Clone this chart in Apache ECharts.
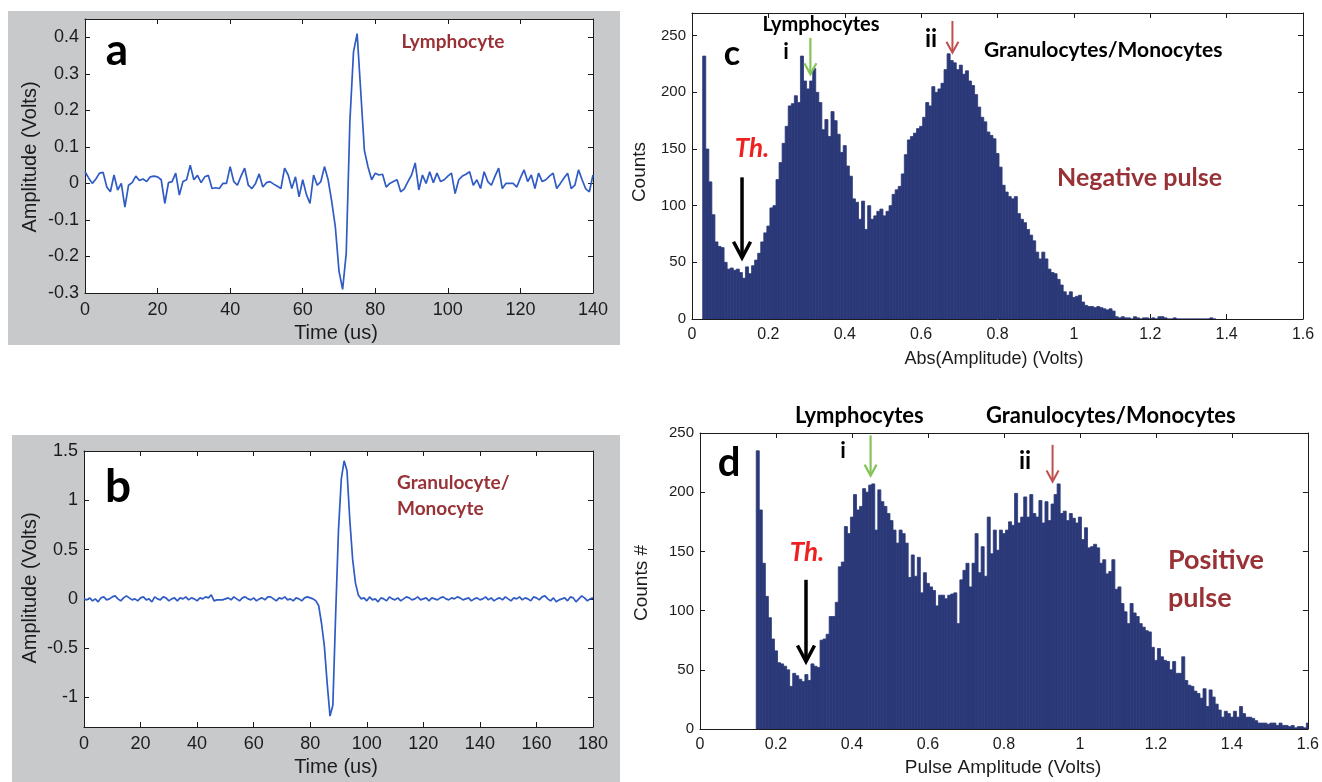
<!DOCTYPE html>
<html>
<head>
<meta charset="utf-8">
<script src="https://cdn.jsdelivr.net/npm/echarts@6/dist/echarts.min.js"></script>
<style>
  html, body { margin: 0; padding: 0; background: #ffffff; }
  #chart { width: 1322px; height: 782px; }
</style>
</head>
<body>
<div id="chart"></div>
<script>
// ---- (a) lymphocyte pulse, one sample per microsecond ----
const lymphTimeStep = 1;
const lymphAmplitude = [
  0.032, 0.015, 0.000, 0.012, 0.028, 0.030, -0.010, -0.023, 0.023, -0.018,
  0.000, -0.065, -0.005, 0.002, 0.020, 0.008, 0.012, 0.005, 0.018, 0.020,
  0.018, 0.010, -0.055, 0.002, 0.005, 0.028, -0.032, 0.005, 0.010, 0.050,
  0.010, 0.022, 0.002, 0.018, 0.022, -0.014, -0.012, -0.014, 0.000, 0.000,
  0.046, 0.005, -0.005, 0.020, 0.042, -0.005, -0.014, 0.000, 0.026, -0.010,
  0.002, 0.005, -0.002, -0.008, -0.014, 0.042, 0.023, -0.014, 0.018, -0.037,
  0.010, -0.030, -0.055, 0.023, -0.005, 0.005, 0.046, 0.010, -0.050, -0.120,
  -0.240, -0.290, -0.190, 0.170, 0.360, 0.410, 0.250, 0.090, 0.045, 0.010,
  0.028, 0.023, 0.025, -0.010, 0.000, 0.005, 0.010, -0.023, -0.015, 0.005,
  0.023, 0.056, -0.018, 0.023, 0.000, 0.032, 0.002, 0.028, 0.005, 0.010,
  0.020, 0.028, -0.028, 0.010, 0.020, 0.025, 0.032, -0.005, 0.010, -0.014,
  0.032, 0.005, -0.005, 0.020, 0.042, -0.014, 0.000, 0.000, 0.000, -0.010,
  0.015, 0.037, 0.005, 0.023, -0.014, 0.028, 0.005, 0.010, 0.020, 0.028,
  -0.014, 0.000, 0.015, 0.028, -0.014, -0.005, 0.037, 0.010, -0.015, -0.023,
  0.023
];

// ---- (b) granulocyte / monocyte pulse ----
const granTimeStep = 1;
const granAmplitude = [
  0.00, -0.01, 0.01, -0.02, 0.00, -0.03, 0.01, 0.02, -0.01, 0.00,
  0.02, 0.03, 0.00, -0.02, 0.01, 0.03, 0.01, -0.01, 0.00, -0.02,
  0.01, 0.02, -0.01, 0.00, -0.03, 0.02, 0.00, -0.01, 0.02, 0.01,
  -0.02, 0.00, 0.01, -0.02, 0.01, 0.00, 0.02, -0.01, 0.01, 0.00,
  -0.02, 0.01, 0.00, 0.02, 0.01, 0.04, -0.02, -0.01, -0.01, -0.01,
  0.00, 0.01, -0.01, 0.02, 0.00, -0.02, 0.01, 0.02, 0.00, -0.01,
  0.01, -0.02, 0.00, 0.01, -0.01, 0.02, 0.02, 0.00, -0.02, 0.01,
  0.00, 0.02, -0.01, 0.00, -0.02, 0.01, 0.00, -0.02, 0.01, 0.02,
  0.01, 0.00, -0.02, -0.07, -0.25, -0.48, -0.86, -1.19, -1.08, -0.15,
  0.70, 1.22, 1.40, 1.30, 0.80, 0.40, 0.16, 0.04, 0.00, 0.01,
  -0.02, 0.02, -0.01, 0.00, -0.03, 0.01, 0.00, -0.02, 0.02, 0.00,
  -0.01, 0.01, -0.02, 0.00, 0.02, 0.01, -0.01, 0.00, 0.02, -0.01,
  0.00, 0.01, -0.02, 0.01, 0.00, -0.01, 0.01, 0.02, 0.00, -0.01,
  0.01, 0.00, 0.02, 0.01, -0.01, 0.00, 0.01, -0.02, 0.00, 0.01,
  -0.01, 0.00, 0.02, -0.01, 0.01, -0.02, 0.00, 0.01, -0.01, 0.02,
  0.00, -0.02, 0.01, 0.00, 0.02, -0.01, 0.01, 0.00, -0.02, 0.02,
  0.01, -0.01, 0.02, 0.03, 0.00, -0.02, 0.01, -0.03, -0.01, 0.00,
  0.01, -0.02, 0.02, 0.01, -0.03, 0.00, 0.03, 0.01, -0.02, 0.00,
  0.01
];

// ---- (c) histogram of |amplitude| for negative pulses ----
const negBinStart = 0.028;
const negBinWidth = 0.008;
const negCounts = [
  232, 150, 121, 92, 68, 64, 63, 50, 44, 45,
  43, 44, 41, 36, 46, 40, 47, 52, 58, 68,
  76, 82, 98, 100, 123, 138, 155, 170, 188, 190,
  197, 191, 232, 210, 203, 210, 221, 200, 191, 167,
  176, 161, 183, 175, 163, 147, 153, 135, 126, 106,
  103, 88, 104, 79, 100, 88, 91, 95, 97, 91,
  95, 100, 110, 114, 117, 128, 145, 158, 161, 164,
  168, 170, 178, 191, 188, 205, 200, 203, 208, 220,
  234, 228, 226, 220, 224, 216, 219, 210, 206, 198,
  187, 178, 174, 165, 162, 159, 146, 134, 118, 112,
  108, 106, 108, 93, 88, 85, 79, 74, 69, 59,
  53, 59, 53, 44, 41, 40, 35, 30, 24, 21,
  24, 19, 20, 21, 15, 12, 11, 11, 10, 11,
  10, 9, 8, 9, 7, 2, 1, 2, 1, 1,
  0, 2, 1, 0, 1, 1, 0, 1, 0, 2,
  2, 1, 0, 0, 1, 0, 0, 0, 0, 0,
  0, 0, 0, 0, 0, 0, 1, 0
];

// ---- (d) histogram of amplitude for positive pulses ----
const posBinStart = 0.148;
const posBinWidth = 0.008;
const posCounts = [
  235, 185, 140, 112, 94, 76, 66, 56, 55, 53,
  50, 36, 47, 45, 42, 40, 46, 41, 55, 53,
  52, 75, 76, 80, 95, 95, 107, 137, 141, 171,
  165, 179, 198, 185, 188, 203, 200, 206, 207, 168,
  202, 192, 188, 182, 176, 168, 157, 168, 165, 157,
  128, 147, 129, 145, 115, 132, 123, 120, 117, 104,
  113, 113, 110, 113, 114, 115, 89, 126, 134, 140,
  120, 140, 165, 132, 154, 129, 179, 148, 168, 151,
  168, 165, 168, 175, 172, 199, 174, 179, 196, 179,
  198, 182, 179, 193, 174, 192, 176, 190, 198, 207,
  182, 184, 176, 182, 178, 174, 179, 160, 170, 153,
  154, 156, 153, 140, 143, 131, 133, 143, 118, 120,
  106, 99, 89, 106, 98, 95, 89, 86, 83, 82,
  69, 58, 68, 61, 58, 57, 50, 57, 47, 47,
  61, 41, 37, 36, 32, 30, 26, 34, 19, 33,
  27, 21, 16, 10, 15, 13, 10, 15, 10, 19,
  13, 10, 10, 9, 7, 5, 5, 5, 4, 5,
  5, 3, 5, 3, 3, 2, 3, 1, 2, 2,
  1, 5
];

// ---- tick values ----
const ticksTimeA = [0, 20, 40, 60, 80, 100, 120, 140];
const ticksAmpA = [-0.3, -0.2, -0.1, 0, 0.1, 0.2, 0.3, 0.4];
const ticksTimeB = [0, 20, 40, 60, 80, 100, 120, 140, 160, 180];
const ticksAmpB = [-1, -0.5, 0, 0.5, 1, 1.5];
const ticksVolts = [0, 0.2, 0.4, 0.6, 0.8, 1, 1.2, 1.4, 1.6];
const ticksCounts = [0, 50, 100, 150, 200, 250];

// ---- styling ----
const AXIS_COLOR = '#1c1c1c';
const TICK_FONT = 'Liberation Sans';
const NOTE_FONT = 'Lato';
const LINE_COLOR = '#2f5bc4';
const HIST_COLOR = '#2b3978';
const PANEL_GRAY = '#c8c9cb';
const DARK_RED = '#983236';

const grids = [
  { left: 85, top: 19, width: 508, height: 274 },   // a
  { left: 84, top: 451, width: 509, height: 276 },  // b
  { left: 692, top: 13, width: 611, height: 306 },  // c
  { left: 700, top: 433, width: 609, height: 296 }  // d
];

function boxX(gi, min, max, ticks, fs, margin) {
  const common = {
    type: 'value', gridIndex: gi, min: min, max: max,
    splitLine: { show: false },
    axisLine: { show: true, onZero: false, lineStyle: { color: AXIS_COLOR, width: 1 } },
    axisTick: { show: true, inside: true, length: 5, customValues: ticks, lineStyle: { color: AXIS_COLOR } }
  };
  return [
    Object.assign({}, common, {
      position: 'bottom',
      axisLabel: { show: true, customValues: ticks, margin: margin, color: AXIS_COLOR, fontFamily: TICK_FONT, fontSize: fs }
    }),
    Object.assign({}, common, { position: 'top', axisLabel: { show: false } })
  ];
}
function boxY(gi, min, max, ticks, fs, margin) {
  const common = {
    type: 'value', gridIndex: gi, min: min, max: max,
    splitLine: { show: false },
    axisLine: { show: true, onZero: false, lineStyle: { color: AXIS_COLOR, width: 1 } },
    axisTick: { show: true, inside: true, length: 5, customValues: ticks, lineStyle: { color: AXIS_COLOR } }
  };
  return [
    Object.assign({}, common, {
      position: 'left',
      axisLabel: { show: true, customValues: ticks, margin: margin, color: AXIS_COLOR, fontFamily: TICK_FONT, fontSize: fs }
    }),
    Object.assign({}, common, { position: 'right', axisLabel: { show: false } })
  ];
}

function pulseSeries(idx, step, values) {
  return {
    type: 'line', xAxisIndex: idx, yAxisIndex: idx,
    data: values.map((v, i) => [i * step, v]),
    symbol: 'none', smooth: false,
    lineStyle: { color: LINE_COLOR, width: 1.7 },
    silent: true
  };
}

function histogramSeries(idx, start, width, counts) {
  return {
    type: 'custom', xAxisIndex: idx, yAxisIndex: idx, clip: true,
    encode: { x: [0, 1], y: 2 },
    data: counts.map((c, i) => [start + i * width, start + (i + 1) * width, c]),
    renderItem: function (params, api) {
      const topLeft = api.coord([api.value(0), api.value(2)]);
      const botRight = api.coord([api.value(1), 0]);
      return {
        type: 'rect',
        shape: { x: topLeft[0], y: topLeft[1], width: botRight[0] - topLeft[0], height: botRight[1] - topLeft[1] },
        style: { fill: HIST_COLOR, stroke: HIST_COLOR, lineWidth: 0.8 }
      };
    }
  };
}

function txt(x, y, text, size, opts) {
  opts = opts || {};
  return {
    type: 'text', x: x, y: y, z: 20, rotation: opts.rotation || 0,
    style: {
      text: text, fill: opts.color || '#000',
      fontFamily: opts.family || NOTE_FONT, fontSize: size,
      fontWeight: opts.weight || 'bold', fontStyle: opts.italic ? 'italic' : 'normal',
      align: opts.align || 'center', verticalAlign: 'middle'
    }
  };
}

const axisTitleStyle = { family: TICK_FONT, weight: 'normal', color: AXIS_COLOR };

const staticGraphics = [
  // grey panels behind (a) and (b)
  { type: 'rect', z: -5, shape: { x: 8, y: 11, width: 612, height: 334 }, style: { fill: PANEL_GRAY } },
  { type: 'rect', z: -5, shape: { x: 12, y: 435, width: 608, height: 347 }, style: { fill: PANEL_GRAY } },

  // axis titles
  txt(336, 333, 'Time (us)', 20, axisTitleStyle),
  txt(30, 157, 'Amplitude (Volts)', 20, Object.assign({ rotation: Math.PI / 2 }, axisTitleStyle)),
  txt(336, 767, 'Time (us)', 20, axisTitleStyle),
  txt(30, 588, 'Amplitude (Volts)', 20, Object.assign({ rotation: Math.PI / 2 }, axisTitleStyle)),
  txt(994, 359, 'Abs(Amplitude) (Volts)', 18, axisTitleStyle),
  txt(640, 172, 'Counts', 19, Object.assign({ rotation: Math.PI / 2 }, axisTitleStyle)),
  txt(1003, 768, 'Pulse Amplitude (Volts)', 19, axisTitleStyle),
  txt(642, 583, 'Counts #', 19, Object.assign({ rotation: Math.PI / 2 }, axisTitleStyle)),

  // panel letters and labels
  txt(117, 51, 'a', 44),
  txt(453, 42, 'Lymphocyte', 19, { color: DARK_RED }),
  txt(118, 487, 'b', 46),
  txt(397, 483, 'Granulocyte/', 19, { color: DARK_RED, align: 'left' }),
  txt(397, 509, 'Monocyte', 19, { color: DARK_RED, align: 'left' }),

  txt(732, 54, 'c', 34),
  txt(821, 25, 'Lymphocytes', 20),
  txt(786, 52, 'i', 22),
  txt(931, 39, 'ii', 24),
  txt(984, 50, 'Granulocytes/Monocytes', 21, { align: 'left' }),
  txt(752, 149, 'Th.', 26, { color: '#ee2020', italic: true }),
  txt(1057, 178, 'Negative pulse', 25, { color: DARK_RED, align: 'left' }),

  txt(729, 463, 'd', 40),
  txt(795, 416, 'Lymphocytes', 22, { align: 'left' }),
  txt(986, 416, 'Granulocytes/Monocytes', 22, { align: 'left' }),
  txt(843, 451, 'i', 22),
  txt(1025, 461, 'ii', 24),
  txt(807, 553, 'Th.', 26, { color: '#ee2020', italic: true }),
  txt(1168, 560, 'Positive', 27, { color: DARK_RED, align: 'left' }),
  txt(1168, 598, 'pulse', 27, { color: DARK_RED, align: 'left' })
];

const xAxes = [].concat(
  boxX(0, 0, 140, ticksTimeA, 18, 8),
  boxX(1, 0, 180, ticksTimeB, 18, 8),
  boxX(2, 0, 1.6, ticksVolts, 16, 8),
  boxX(3, 0, 1.6, ticksVolts, 16, 8)
);
const yAxes = [].concat(
  boxY(0, -0.3, 0.45, ticksAmpA, 18, 6),
  boxY(1, -1.3, 1.5, ticksAmpB, 18, 6),
  boxY(2, 0, 270, ticksCounts, 15, 6),
  boxY(3, 0, 250, ticksCounts, 15, 6)
);

const chart = echarts.init(document.getElementById('chart'), null, { renderer: 'canvas' });
chart.setOption({
  animation: false,
  backgroundColor: '#ffffff',
  grid: grids.map(g => Object.assign({ show: true, backgroundColor: '#ffffff', borderWidth: 0 }, g)),
  xAxis: xAxes,
  yAxis: yAxes,
  series: [
    pulseSeries(0, lymphTimeStep, lymphAmplitude),
    pulseSeries(2, granTimeStep, granAmplitude),
    histogramSeries(4, negBinStart, negBinWidth, negCounts),
    histogramSeries(6, posBinStart, posBinWidth, posCounts)
  ],
  graphic: { elements: staticGraphics }
});

// annotation arrows, placed in data units of the histogram panels
const arrowStyles = {
  th:   { color: '#000000', width: 3.5, head: 8.5, headLen: 16 },
  lym:  { color: '#86c45a', width: 2.2, head: 6,   headLen: 11 },
  gran: { color: '#c0504d', width: 2.0, head: 6,   headLen: 11 }
};
const negArrows = [
  { x: 0.131, from: 125, to: 54, kind: 'th' },
  { x: 0.310, from: 248, to: 216, kind: 'lym' },
  { x: 0.682, from: 263, to: 235, kind: 'gran' }
];
const posArrows = [
  { x: 0.279, from: 126, to: 57, kind: 'th' },
  { x: 0.449, from: 248, to: 214, kind: 'lym' },
  { x: 0.928, from: 240, to: 209, kind: 'gran' }
];

function arrowShapes(axisIdx, list) {
  const out = [];
  list.forEach(a => {
    const s = arrowStyles[a.kind];
    const p0 = chart.convertToPixel({ xAxisIndex: axisIdx, yAxisIndex: axisIdx }, [a.x, a.from]);
    const p1 = chart.convertToPixel({ xAxisIndex: axisIdx, yAxisIndex: axisIdx }, [a.x, a.to]);
    out.push({
      type: 'line', z: 15,
      shape: { x1: p0[0], y1: p0[1], x2: p1[0], y2: p1[1] - 1 },
      style: { stroke: s.color, lineWidth: s.width }
    });
    out.push({
      type: 'polyline', z: 15,
      shape: { points: [[p1[0] - s.head, p1[1] - s.headLen], [p1[0], p1[1]], [p1[0] + s.head, p1[1] - s.headLen]] },
      style: { stroke: s.color, lineWidth: s.width, fill: null, lineJoin: 'miter' }
    });
  });
  return out;
}

chart.setOption({
  graphic: { elements: staticGraphics.concat(arrowShapes(4, negArrows), arrowShapes(6, posArrows)) }
});
</script>
</body>
</html>
